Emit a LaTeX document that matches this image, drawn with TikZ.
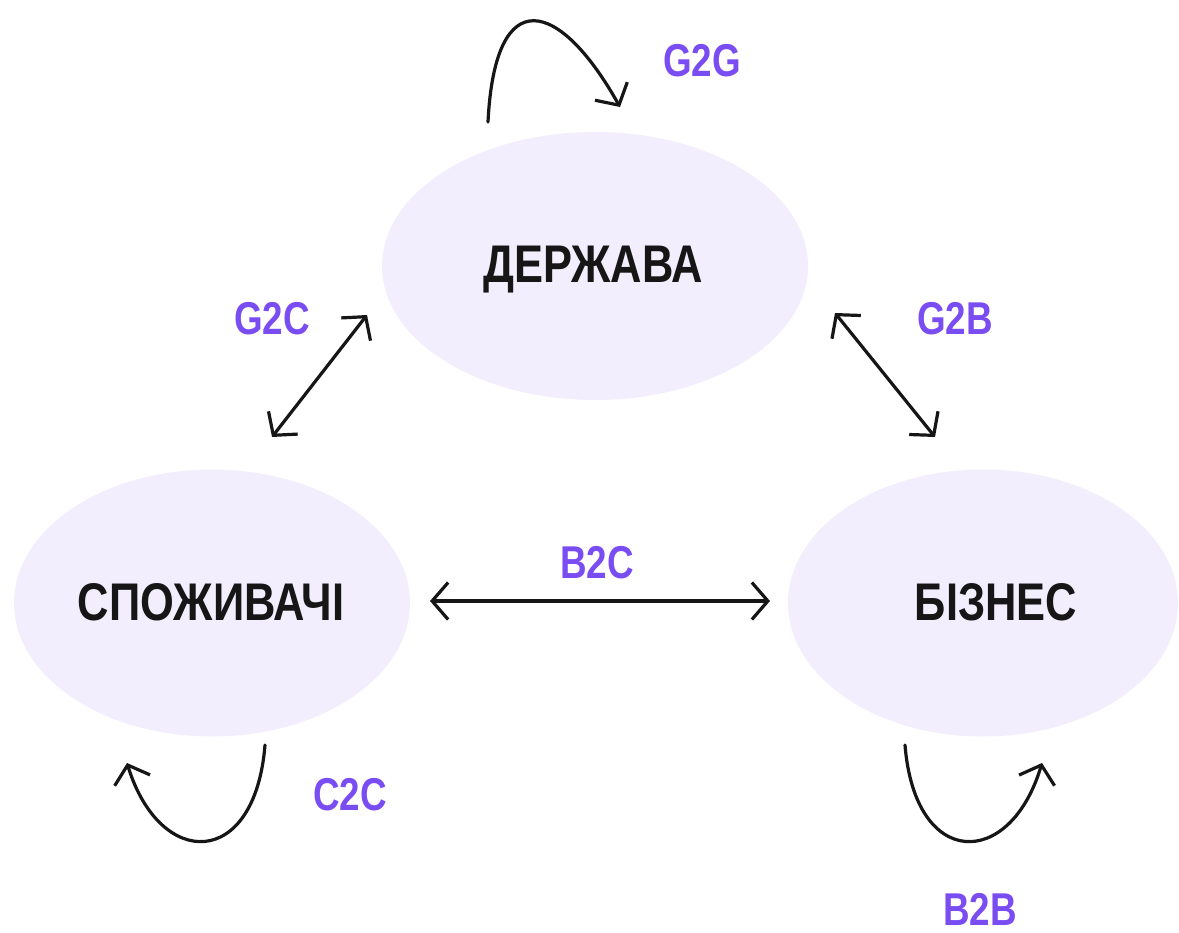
\documentclass[tikz,border=0pt]{standalone}
\usepackage{fontspec}
\setmainfont{Liberation Sans}
\newfontfamily\titlefont[FakeStretch=0.82]{Liberation Sans}
\newfontfamily\labfont[FakeStretch=0.80]{Liberation Sans}
\usetikzlibrary{arrows.meta,shapes.geometric}
\definecolor{blob}{HTML}{F2EEFD}
\definecolor{lab}{HTML}{7A4DF2}
\definecolor{ink}{HTML}{161616}
\tikzset{
  blobnode/.style={ellipse, fill=blob, draw=none, inner sep=0pt},
  title/.style={anchor=base, inner sep=0pt, text=ink, font=\titlefont\fontsize{53}{60}\selectfont\bfseries},
  tag/.style={anchor=base, inner sep=0pt, text=lab, font=\labfont\fontsize{46}{52}\selectfont\bfseries},
  barb/.tip={Straight Barb[length=16pt,width=37pt,line width=3.2pt]},
  link/.style={draw=ink, line width=3.2pt, line cap=round, arrows={-barb}},
  dlink/.style={link, arrows={barb-barb}}
}
\begin{document}
\begin{tikzpicture}[x=1pt,y=-1pt]
\useasboundingbox (0,0) rectangle (1179,933);
\fill[white] (0,0) rectangle (1179,933);
% ellipses
\node[blobnode, minimum width=426pt, minimum height=268pt] (gov) at (595,266) {};
\node[blobnode, minimum width=396pt, minimum height=267pt] (cons) at (212,603) {};
\node[blobnode, minimum width=390pt, minimum height=267pt] (biz) at (983,603) {};
% titles
\node[title] (govt) at (593,283) {ДЕРЖАВА};
\node[title] (const) at (211,620) {СПОЖИВАЧІ};
\node[title] (bizt) at (996,620) {БІЗНЕС};
% tags
\node[tag] (g2g) at (702,77) {G2G};
\node[tag] (g2c) at (272,335) {G2C};
\node[tag] (g2b) at (955,335) {G2B};
\node[tag] (b2c) at (597,578) {B2C};
\node[tag] (c2c) at (350,810) {C2C};
\node[tag] (b2b) at (980,925) {B2B};
% connector ends
\coordinate (ggA) at (488,122);
\coordinate (ggB) at (620,107);
\coordinate (gcA) at (272,437);
\coordinate (gcB) at (367,315);
\coordinate (gbA) at (835,313);
\coordinate (gbB) at (935,437);
\coordinate (bcA) at (430,601);
\coordinate (bcB) at (770,601);
\coordinate (ccA) at (265,745);
\coordinate (ccB) at (127,763);
\coordinate (bbA) at (905,745);
\coordinate (bbB) at (1042,763);
% connectors
\draw[link] (ggA) .. controls (495,-20) and (560,0) .. (ggB);
\draw[dlink] (gcA) -- (gcB);
\draw[dlink] (gbA) -- (gbB);
\draw[dlink] (bcA) -- (bcB);
\draw[link] (ccA) .. controls (255,870) and (160,870) .. (ccB);
\draw[link] (bbA) .. controls (915,870) and (1010,870) .. (bbB);
\end{tikzpicture}
\end{document}
